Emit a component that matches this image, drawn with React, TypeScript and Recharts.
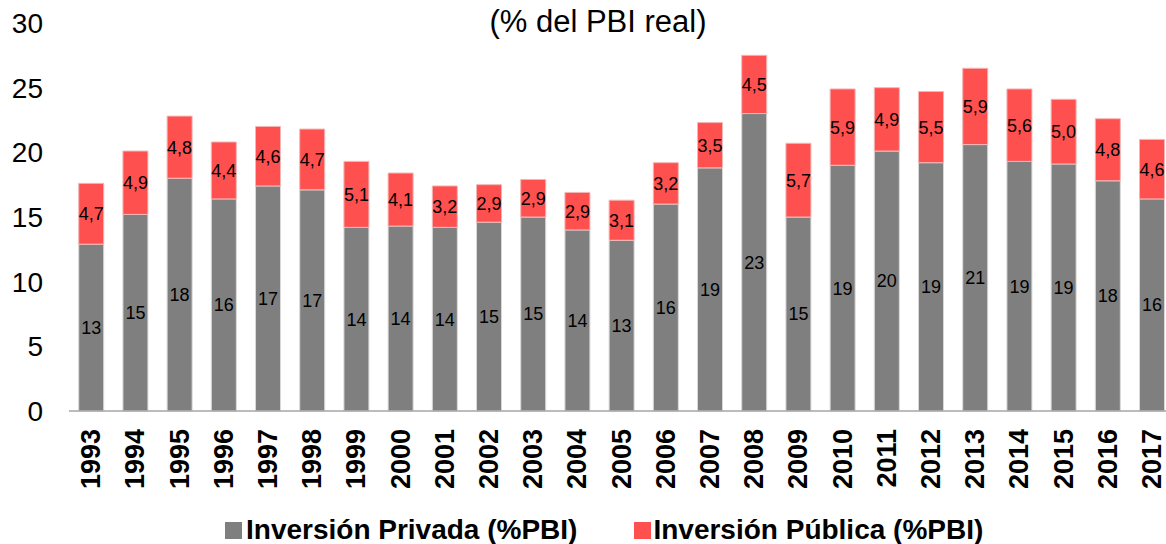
import React from 'react';
import { BarChart, Bar, XAxis, YAxis, Legend, LabelList } from 'recharts';

const years = [
  '1993', '1994', '1995', '1996', '1997', '1998', '1999', '2000', '2001', '2002', '2003', '2004', '2005',
  '2006', '2007', '2008', '2009', '2010', '2011', '2012', '2013', '2014', '2015', '2016', '2017',
];
const privada = [
  12.9, 15.2, 18.0, 16.4, 17.4, 17.1, 14.2, 14.3, 14.2, 14.6, 15.0, 14.0, 13.2,
  16.0, 18.8, 23.0, 15.0, 19.0, 20.1, 19.2, 20.6, 19.3, 19.1, 17.8, 16.4,
];
const publica = [
  4.7, 4.9, 4.8, 4.4, 4.6, 4.7, 5.1, 4.1, 3.2, 2.9, 2.9, 2.9, 3.1,
  3.2, 3.5, 4.5, 5.7, 5.9, 4.9, 5.5, 5.9, 5.6, 5.0, 4.8, 4.6,
];
const yTicks = [0, 5, 10, 15, 20, 25, 30];

const GRAY = '#7f7f7f';
const RED = '#ff5050';
const FONT = "'Liberation Sans', Arial, sans-serif";

const data = years.map((year, i) => ({ year, privada: privada[i], publica: publica[i] }));

const YearTick = (props: any) => {
  const { x, y, payload } = props;
  const ty = y + 18;
  return (
    <text
      x={x}
      y={ty}
      transform={`rotate(-90, ${x}, ${ty})`}
      textAnchor="end"
      dominantBaseline="central"
      fontSize={27}
      fontWeight="bold"
      fill="#000"
      fontFamily={FONT}
    >
      {payload.value}
    </text>
  );
};

const LegendBox = () => (
  <div style={{ position: 'relative', height: 40, fontFamily: FONT }}>
    <div
      style={{
        position: 'absolute',
        top: 6,
        left: 225,
        whiteSpace: 'nowrap',
        fontSize: 28,
        fontWeight: 'bold',
        lineHeight: '40px',
        color: '#000',
      }}
    >
      <span style={{ display: 'inline-block', width: 17, height: 17, background: GRAY, marginRight: 4 }} />
      <span>Inversión Privada (%PBI)</span>
      <span style={{ display: 'inline-block', width: 17, height: 17, background: RED, marginLeft: 57, marginRight: 2 }} />
      <span>Inversión Pública (%PBI)</span>
    </div>
  </div>
);

export default function App() {
  return (
    <div
      style={{
        position: 'absolute',
        top: 0,
        left: 0,
        width: 1166,
        height: 544,
        overflow: 'hidden',
        background: '#fff',
        fontFamily: FONT,
      }}
    >
      <div
        style={{
          position: 'absolute',
          top: 6,
          left: 398,
          width: 400,
          textAlign: 'center',
          fontSize: 31,
          lineHeight: '31px',
          color: '#000',
        }}
      >
        (% del PBI real)
      </div>
      <BarChart
        width={1180}
        height={544}
        data={data}
        margin={{ top: 23, right: 6, bottom: 0, left: 0 }}
        barCategoryGap="22%"
      >
        <XAxis
          dataKey="year"
          interval={0}
          height={93}
          tickLine={false}
          tickSize={0}
          tickMargin={0}
          axisLine={{ stroke: '#a6a6a6', strokeWidth: 1.5 }}
          tick={<YearTick />}
        />
        <YAxis
          domain={[0, 30]}
          ticks={yTicks}
          width={69}
          axisLine={false}
          tickLine={false}
          tickSize={0}
          tickMargin={26}
          tick={{ fontSize: 28, fill: '#000' }}
        />
        <Legend verticalAlign="bottom" height={40} content={<LegendBox />} />
        <Bar dataKey="privada" stackId="a" fill={GRAY} stroke="#d9d9d9" strokeWidth={1} isAnimationActive={false}>
          <LabelList
            dataKey="privada"
            position="center"
            formatter={(v: any) => String(Math.round(Number(v)))}
            fill="#000"
            fontSize={18}
          />
        </Bar>
        <Bar dataKey="publica" stackId="a" fill={RED} stroke="#f5b5b5" strokeWidth={1} isAnimationActive={false}>
          <LabelList
            dataKey="publica"
            position="center"
            formatter={(v: any) => Number(v).toFixed(1).replace('.', ',')}
            fill="#000"
            fontSize={18}
          />
        </Bar>
      </BarChart>
    </div>
  );
}
